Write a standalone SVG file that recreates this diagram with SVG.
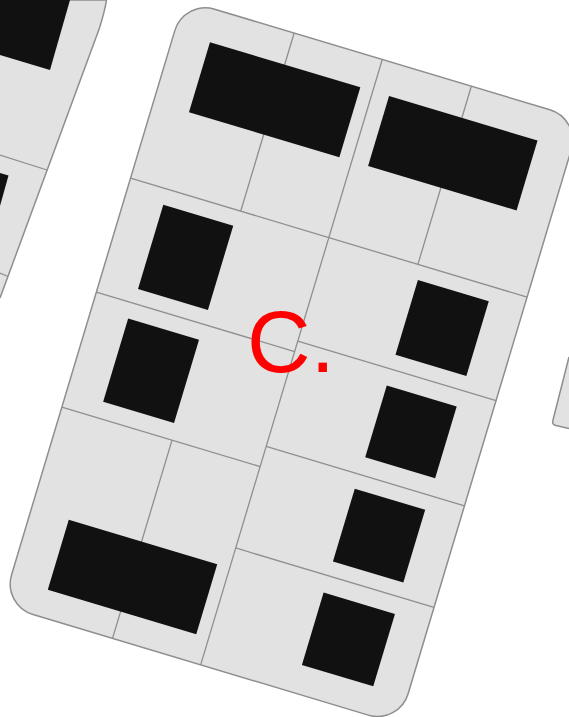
<svg xmlns="http://www.w3.org/2000/svg" width="569" height="717" viewBox="0 0 569 717">
<style>
.card{fill:#e2e2e2;stroke:#8e8e8e;stroke-width:1.5}
.grid{stroke:#8f8f8f;stroke-width:1.3;fill:none}
.blk{fill:#111111}
.lbl{font-family:"Liberation Sans",Arial,sans-serif;font-size:88px;fill:#ff0000}
</style>
<rect width="569" height="717" fill="#ffffff"/>
<g id="left-card">
<path class="card" d="M0,0 L106.5,0 C105,10 102,20 99.5,28 L0,298"/>
<polygon class="blk" points="0,0 70,0 50,70 0,55"/>
<line class="grid" x1="0" y1="155" x2="47" y2="170"/>
<polygon class="blk" points="0,173 8.5,175.5 0,206"/>
<line class="grid" x1="0" y1="273" x2="8.2" y2="276.5"/>
</g>
<g id="right-card">
<path class="card" d="M569,357 L553,420 Q551.5,424.5 556,425.5 L569,428.5"/>
</g>
<g id="main-card" transform="translate(184,0) rotate(16.7)">
<rect class="card" x="0" y="0" width="414" height="632" rx="32" ry="32"/>
<g id="grid-lines">
<line class="grid" x1="207" y1="0" x2="207" y2="632"/>
<line class="grid" x1="0" y1="186" x2="414" y2="186"/>
<line class="grid" x1="0" y1="305" x2="207" y2="305"/>
<line class="grid" x1="0" y1="425" x2="207" y2="425"/>
<line class="grid" x1="207" y1="294" x2="414" y2="294"/>
<line class="grid" x1="207" y1="404" x2="414" y2="404"/>
<line class="grid" x1="207" y1="510" x2="414" y2="510"/>
<line class="grid" x1="115" y1="0" x2="115" y2="186"/>
<line class="grid" x1="115" y1="425" x2="115" y2="632"/>
<line class="grid" x1="300" y1="0" x2="300" y2="186"/>
</g>
<g id="blocks">
<rect class="blk" x="37" y="33" width="157" height="73"/>
<rect class="blk" x="224" y="33" width="155" height="73"/>
<rect class="blk" x="39" y="202" width="73" height="88"/>
<rect class="blk" x="38" y="321" width="74" height="87"/>
<rect class="blk" x="304.5" y="201" width="74" height="78"/>
<rect class="blk" x="305" y="311" width="73" height="75"/>
<rect class="blk" x="304" y="419" width="73.5" height="76"/>
<rect class="blk" x="304" y="527.5" width="74.5" height="75.5"/>
<rect class="blk" x="39" y="531" width="155" height="73"/>
</g>
</g>
<g id="label">
<text class="lbl" x="247" y="372">C.</text>
</g>
</svg>
